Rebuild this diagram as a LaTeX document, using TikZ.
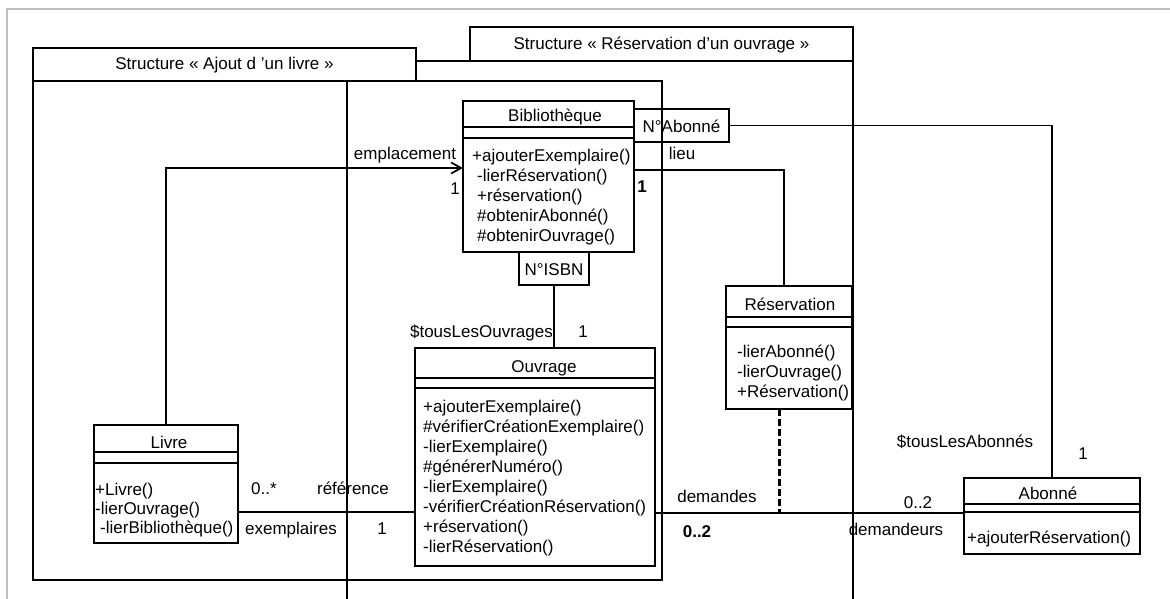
\documentclass[tikz,border=0pt]{standalone}
\usepackage{fontspec}
\setmainfont{Liberation Sans}
\usetikzlibrary{arrows.meta}

\tikzset{
  classe/.style={draw, line width=2.6pt, anchor=north west, inner sep=0pt, outer sep=0pt},
  compart/.style={line width=2.6pt},
  nomclasse/.style={anchor=base, inner sep=0pt},
  methode/.style={anchor=base west, inner sep=0pt},
  cadre/.style={draw, line width=1.8pt},
  titre/.style={cadre, fill=white, anchor=north west, minimum width=383pt,
    inner sep=0pt, outer sep=0pt, text height=13pt, text depth=2pt},
  qualif/.style={draw, line width=1.8pt, minimum height=33pt, inner sep=0pt,
    outer sep=0pt, text height=13pt, text depth=0pt},
  lien/.style={line width=1.8pt},
  etiq/.style={inner sep=0pt, anchor=base},
}

\begin{document}
\begin{tikzpicture}[x=1pt, y=-1pt, every node/.style={font=\fontsize{17}{20}\selectfont}]
  \useasboundingbox (0,0) rectangle (1170,599);
  \draw[gray!50, line width=2pt] (7,599) |- (1170,9);

  % les deux structures
  \node[titre, minimum height=34pt] (tresa) at (470,27) {Structure « Réservation d’un ouvrage »};
  \draw[cadre] (347,605) |- (tresa.south east) -- (853,605);
  \node[titre, minimum height=33pt] (tajout) at (33,48) {Structure « Ajout d ’un livre »\hspace{12pt}};
  \draw[cadre] (tajout.south west) rectangle (662,580);

  % Bibliotheque
  \node[classe, minimum width=171pt, minimum height=151pt] (biblio) at (463,101) {};
  \draw[compart] ([yshift=-26pt]biblio.north west) -- ([yshift=-26pt]biblio.north east);
  \draw[compart] ([yshift=-37pt]biblio.north west) -- ([yshift=-37pt]biblio.north east);
  \node[nomclasse] (biblio-nom) at (555,122) {Bibliothèque};
  \foreach \m [count=\i from 0] in {+ajouterExemplaire(), \hspace*{5pt}-lierRéservation(),
      \hspace*{5pt}+réservation(), \hspace*{5pt}\#obtenirAbonné(), \hspace*{5pt}\#obtenirOuvrage()}
    \node[methode] (biblio-m\i) at (472,{161+20*\i}) {\m};

  % Ouvrage
  \node[classe, minimum width=240pt, minimum height=218pt] (ouvrage) at (415,348) {};
  \draw[compart] ([yshift=-30pt]ouvrage.north west) -- ([yshift=-30pt]ouvrage.north east);
  \draw[compart] ([yshift=-40pt]ouvrage.north west) -- ([yshift=-40pt]ouvrage.north east);
  \node[nomclasse] (ouvrage-nom) at (544,372) {Ouvrage};
  \foreach \m [count=\i from 0] in {+ajouterExemplaire(), \#vérifierCréationExemplaire(),
      -lierExemplaire(), \#générerNuméro(), -lierExemplaire(),
      -vérifierCréationRéservation(), +réservation(), -lierRéservation()}
    \node[methode] (ouvrage-m\i) at (423,{412+20*\i}) {\m};

  % Reservation
  \node[classe, minimum width=126pt, minimum height=123pt] (resa) at (726,286) {};
  \draw[compart] ([yshift=-31pt]resa.north west) -- ([yshift=-31pt]resa.north east);
  \draw[compart] ([yshift=-41pt]resa.north west) -- ([yshift=-41pt]resa.north east);
  \node[nomclasse] (resa-nom) at (790,310) {Réservation};
  \foreach \m [count=\i from 0] in {-lierAbonné(), -lierOuvrage(), +Réservation()}
    \node[methode] (resa-m\i) at (737,{357+20*\i}) {\m};

  % Livre
  \node[classe, minimum width=144pt, minimum height=118pt] (livre) at (94,425) {};
  \draw[compart] ([yshift=-27pt]livre.north west) -- ([yshift=-27pt]livre.north east);
  \draw[compart] ([yshift=-38pt]livre.north west) -- ([yshift=-38pt]livre.north east);
  \node[nomclasse] (livre-nom) at (169,448) {Livre};
  \foreach \m [count=\i from 0] in {+Livre(), -lierOuvrage(), \hspace*{5pt}-lierBibliothèque()}
    \node[methode] (livre-m\i) at (95,{495+19*\i}) {\m};

  % Abonne
  \node[classe, minimum width=176pt, minimum height=76pt] (abonne) at (964,478) {};
  \draw[compart] ([yshift=-26pt]abonne.north west) -- ([yshift=-26pt]abonne.north east);
  \draw[compart] ([yshift=-34pt]abonne.north west) -- ([yshift=-34pt]abonne.north east);
  \node[nomclasse] (abonne-nom) at (1048,499) {Abonné};
  \node[methode] (abonne-m0) at (967,543) {+ajouterRéservation()};

  % qualificatifs
  \node[qualif, minimum width=95pt, anchor=north west] (qabonne) at (634,109) {N°Abonné};
  \node[qualif, minimum width=70pt, anchor=north] (qisbn) at (554,252) {N°ISBN};

  % associations
  \draw[lien, -{Straight Barb[length=10pt, width=11pt]}] (livre.north) |- (biblio.west |- 0,168);
  \draw[lien] (livre.east |- 0,512) -- (ouvrage.west |- 0,512);
  \draw[lien] (qisbn.south) -- (qisbn.south |- ouvrage.north);
  \draw[lien] (qabonne.east) -| (abonne.north);
  \draw[lien] (biblio.east |- 0,170) -| (resa.north -| 784,0);
  \draw[lien] (ouvrage.east |- 0,513) -- (abonne.west |- 0,513);
  \coordinate (assoc) at (779,513);
  \draw[lien, line width=3pt, dash pattern=on 7pt off 3pt] (resa.south -| assoc) -- (assoc);

  % roles et multiplicites
  \node[etiq] (lempl) at (405,160) {emplacement};
  \node[etiq] (mempl) at (455,194) {1};
  \node[etiq] (llieu) at (682,160) {lieu};
  \node[etiq] (mlieu) at (642,192) {\bfseries 1};
  \node[etiq, anchor=base east] (louvr) at (553,337) {\$tousLesOuvrages};
  \node[etiq] (mouvr) at (583,337) {1};
  \node[etiq] (mexpl) at (264,494) {0..*};
  \node[etiq] (lref) at (353,494) {référence};
  \node[etiq] (lexpl) at (291,534) {exemplaires};
  \node[etiq] (mref) at (382,534) {1};
  \node[etiq] (ldem) at (717,502) {demandes};
  \node[etiq] (mdem) at (697,537) {\bfseries 0..2};
  \node[etiq] (mdeur) at (918,508) {0..2};
  \node[etiq] (ldeur) at (896,535) {demandeurs};
  \node[etiq] (labon) at (965,447) {\$tousLesAbonnés};
  \node[etiq] (mabon) at (1083,459) {1};
\end{tikzpicture}
\end{document}
